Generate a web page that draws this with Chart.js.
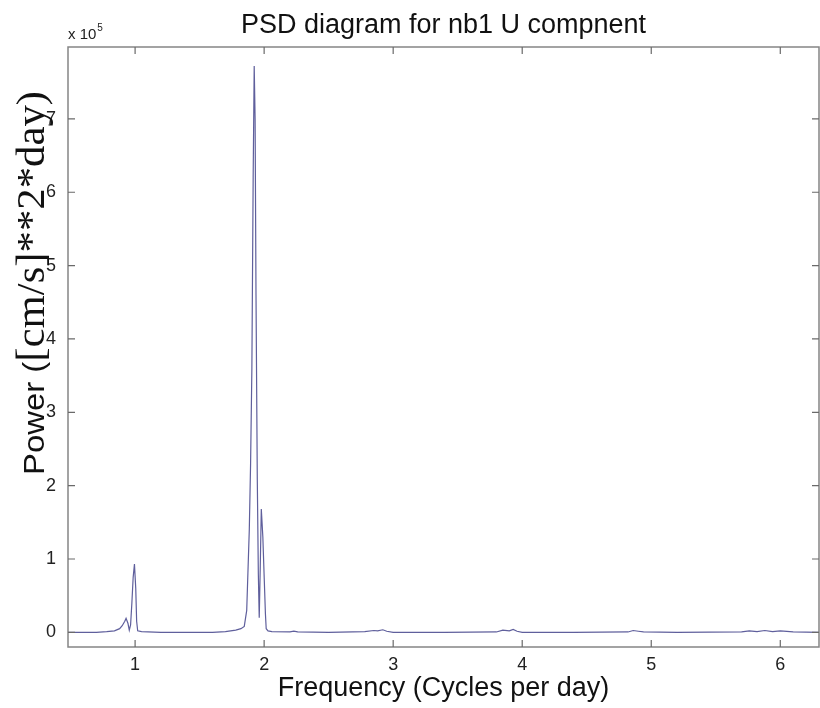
<!DOCTYPE html>
<html>
<head>
<meta charset="utf-8">
<script src="https://cdn.jsdelivr.net/npm/chart.js@4.4.0/dist/chart.umd.min.js"></script>
<style>
html,body{margin:0;padding:0;background:#fff;}
canvas{display:block;}
</style>
</head>
<body>
<canvas id="c" width="820" height="708"></canvas>
<script>
// ---- data (power in units of 10^5 [cm/s]^2*day) ----
const titleText = "PSD diagram for nb1 U compnent";
const xAxisTitle = "Frequency (Cycles per day)";
const yAxisTitleSans = "Power (";
const yAxisTitleSerif = "[cm/s]**2*day)";
const yExponent = 5;
const frequency = [0.48, 0.60, 0.70, 0.78, 0.84, 0.88, 0.90, 0.92, 0.93, 0.945, 0.955, 0.965, 0.975, 0.985, 0.995, 1.005, 1.012, 1.02, 1.05, 1.2, 1.4, 1.6, 1.7, 1.78, 1.82, 1.846, 1.865, 1.885, 1.895, 1.905, 1.915, 1.923, 1.930, 1.937, 1.947, 1.955, 1.962, 1.970, 1.978, 1.990, 2.001, 2.010, 2.016, 2.03, 2.06, 2.2, 2.23, 2.26, 2.5, 2.78, 2.85, 2.88, 2.92, 2.95, 3.0, 3.4, 3.8, 3.85, 3.9, 3.93, 3.96, 4.0, 4.4, 4.82, 4.86, 4.9, 4.94, 5.2, 5.7, 5.76, 5.82, 5.88, 5.94, 6.0, 6.1, 6.3];
const power = [0.00, 0.00, 0.00, 0.01, 0.02, 0.05, 0.09, 0.15, 0.19, 0.12, 0.03, 0.10, 0.40, 0.75, 0.93, 0.60, 0.15, 0.02, 0.01, 0.00, 0.00, 0.00, 0.01, 0.03, 0.05, 0.08, 0.30, 1.40, 2.3, 3.6, 6.2, 7.72, 7.0, 4.6, 2.08, 0.8, 0.2, 0.9, 1.68, 1.3, 0.72, 0.25, 0.05, 0.02, 0.01, 0.005, 0.015, 0.005, 0.0, 0.01, 0.025, 0.02, 0.035, 0.015, 0.0, 0.0, 0.005, 0.03, 0.02, 0.04, 0.015, 0.0, 0.0, 0.005, 0.025, 0.015, 0.005, 0.0, 0.005, 0.02, 0.01, 0.025, 0.01, 0.02, 0.005, 0.0];
const xTickValues = [1, 2, 3, 4, 5, 6];
const yTickValues = [0, 1, 2, 3, 4, 5, 6, 7];

const points = frequency.map((f, i) => ({x: f, y: power[i]}));

const framePlugin = {
  id: 'frame',
  afterDraw(chart) {
    const ctx = chart.ctx;
    const {left, right, top, bottom} = chart.chartArea;
    const xs = chart.scales.x, ys = chart.scales.y;
    ctx.save();
    ctx.strokeStyle = '#858585';
    ctx.lineWidth = 1.5;
    ctx.strokeRect(left, top, right - left, bottom - top);
    ctx.lineWidth = 1.2;
    ctx.strokeStyle = '#6a6a6a';
    ctx.beginPath();
    xs.ticks.forEach(t => {
      const px = xs.getPixelForValue(t.value);
      ctx.moveTo(px, bottom); ctx.lineTo(px, bottom - 7);
      ctx.moveTo(px, top); ctx.lineTo(px, top + 7);
    });
    ys.ticks.forEach(t => {
      const py = ys.getPixelForValue(t.value);
      ctx.moveTo(left, py); ctx.lineTo(left + 7, py);
      ctx.moveTo(right, py); ctx.lineTo(right - 7, py);
    });
    ctx.stroke();
    // exponent label
    ctx.fillStyle = '#222';
    ctx.textBaseline = 'alphabetic';
    ctx.textAlign = 'left';
    ctx.font = '15px "Liberation Sans", Arial, sans-serif';
    ctx.fillText('x 10', left, top - 8);
    const w = ctx.measureText('x 10').width;
    ctx.font = '10px "Liberation Sans", Arial, sans-serif';
    ctx.fillText(String(yExponent), left + w + 1, top - 16);
    // y axis title (mixed fonts, as in the original figure)
    const sansFont = '30px "Liberation Sans", Arial, sans-serif';
    const serifFont = '39px "Liberation Serif", "Times New Roman", serif';
    ctx.font = sansFont;
    const w1 = ctx.measureText(yAxisTitleSans).width;
    ctx.font = serifFont;
    const w2 = ctx.measureText(yAxisTitleSerif).width;
    const s = 384 / (w1 + w2);
    ctx.translate(44, 475);
    ctx.rotate(-Math.PI / 2);
    ctx.scale(s, 1);
    ctx.textBaseline = 'alphabetic';
    ctx.fillStyle = '#111';
    ctx.font = sansFont;
    ctx.fillText(yAxisTitleSans, 0, 0);
    ctx.font = serifFont;
    ctx.fillText(yAxisTitleSerif, w1, 0);
    ctx.restore();
  }
};

new Chart(document.getElementById('c'), {
  type: 'line',
  data: {
    datasets: [{
      data: points,
      borderColor: '#5f5f9c',
      borderWidth: 1.2,
      pointRadius: 0,
      tension: 0,
      fill: false
    }]
  },
  options: {
    responsive: false,
    animation: false,
    events: [],
    layout: {padding: {top: 0, left: 0, right: 1, bottom: 0}},
    plugins: {
      legend: {display: false},
      tooltip: {enabled: false},
      title: {
        display: true,
        text: titleText,
        fullSize: false,
        color: '#111',
        font: {family: '"Liberation Sans", Arial, sans-serif', size: 27, weight: 'normal', lineHeight: 1.2},
        padding: {top: 9, bottom: 5.6}
      }
    },
    scales: {
      x: {
        type: 'linear',
        min: 0.48,
        max: 6.3,
        afterFit(scale) { scale.height = 61; },
        afterBuildTicks(scale) { scale.ticks = xTickValues.map(v => ({value: v})); },
        grid: {display: false, drawTicks: false},
        border: {display: false},
        ticks: {
          color: '#222',
          padding: 7,
          font: {family: '"Liberation Sans", Arial, sans-serif', size: 18},
          callback: v => String(v)
        },
        title: {
          display: true,
          text: xAxisTitle,
          color: '#111',
          font: {family: '"Liberation Sans", Arial, sans-serif', size: 27},
          padding: {top: 0, bottom: 3}
        }
      },
      y: {
        type: 'linear',
        min: -0.2,
        max: 7.98,
        afterFit(scale) { scale.width = 68; },
        afterBuildTicks(scale) { scale.ticks = yTickValues.map(v => ({value: v})); },
        grid: {display: false, drawTicks: false},
        border: {display: false},
        ticks: {
          color: '#222',
          padding: 12,
          font: {family: '"Liberation Sans", Arial, sans-serif', size: 18},
          callback: v => String(v)
        }
      }
    }
  },
  plugins: [framePlugin]
});
</script>
</body>
</html>
